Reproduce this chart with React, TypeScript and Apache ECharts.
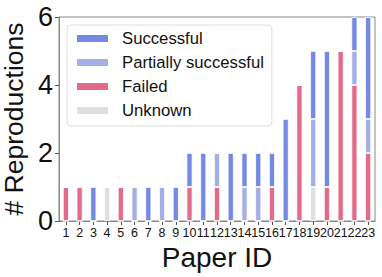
import React, { useEffect, useRef } from "react";
import * as echarts from "echarts";

const paperIds = ["1","2","3","4","5","6","7","8","9","10","11","12","13","14","15","16","17","18","19","20","21","22","23"];
const unknown = [0,0,0,1,0,0,0,0,0,0,0,0,0,0,0,0,0,0,1,0,0,0,0];
const failed = [1,1,0,0,1,0,0,0,0,1,0,1,0,0,0,1,0,4,0,1,5,4,2];
const partial = [0,0,0,0,0,1,0,1,0,0,0,1,0,1,1,0,0,0,2,0,0,1,1];
const successful = [0,0,1,0,0,0,1,0,1,1,2,0,2,1,1,1,3,0,2,4,0,1,3];
const yTicks = [0, 2, 4, 6];

const FONT = "Liberation Sans, Arial, sans-serif";

export default function App() {
  const ref = useRef<HTMLDivElement>(null);
  useEffect(() => {
    if (!ref.current) return;
    const chart = echarts.init(ref.current, undefined, { renderer: "svg" });
    const mk = (name: string, data: number[], color: string) => ({
      name,
      type: "bar",
      stack: "total",
      data,
      barWidth: 6,
      itemStyle: { color, borderColor: "#ffffff", borderWidth: 0.8 },
    });
    chart.setOption({
      animation: false,
      backgroundColor: "#ffffff",
      textStyle: { fontFamily: FONT },
      grid: {
        left: 59,
        right: 7,
        top: 17,
        bottom: 56,
        containLabel: false,
        outerBoundsMode: "none",
        show: true,
        borderColor: "#888888",
        borderWidth: 1,
        backgroundColor: "#ffffff",
      },
      legend: {
        orient: "vertical",
        left: 67,
        top: 25,
        itemWidth: 33,
        itemHeight: 9,
        itemGap: 7,
        padding: [5, 8, 7, 8],
        borderColor: "#dddddd",
        borderWidth: 1,
        borderRadius: 4,
        backgroundColor: "#ffffff",
        textStyle: { fontSize: 16.7, color: "#111111", fontFamily: FONT, padding: [0, 0, 0, 8] },
        data: ["Successful", "Partially successful", "Failed", "Unknown"],
        icon: "rect",
      },
      xAxis: {
        type: "category",
        data: paperIds,
        name: "Paper ID",
        nameLocation: "middle",
        nameGap: 22,
        nameTextStyle: { fontSize: 28, color: "#111111", fontFamily: FONT },
        axisLine: { show: true, lineStyle: { color: "#888888" } },
        axisTick: { show: true, alignWithLabel: true, length: 4, lineStyle: { color: "#555555" } },
        axisLabel: { interval: 0, fontSize: 12.5, color: "#111111", margin: 5, fontFamily: FONT },
      },
      yAxis: {
        type: "value",
        min: 0,
        max: 6,
        interval: 2,
        name: "# Reproductions",
        nameLocation: "middle",
        nameGap: 27,
        nameTextStyle: { fontSize: 26.5, color: "#111111", fontFamily: FONT },
        splitLine: { show: false },
        axisLine: { show: true, lineStyle: { color: "#888888" } },
        axisTick: { show: true, length: 4, lineStyle: { color: "#555555" } },
        axisLabel: {
          fontSize: 27,
          color: "#111111",
          margin: 6,
          fontFamily: FONT,
          formatter: (v: number) => (yTicks.includes(v) ? String(v) : ""),
        },
      },
      series: [
        mk("Unknown", unknown, "#e0e0e0"),
        mk("Failed", failed, "#e26b89"),
        mk("Partially successful", partial, "#a4afe7"),
        mk("Successful", successful, "#7389e3"),
      ],
    });
    return () => chart.dispose();
  }, []);
  return <div ref={ref} style={{ width: 382, height: 277, position: "absolute", left: 0, top: 0 }} />;
}
